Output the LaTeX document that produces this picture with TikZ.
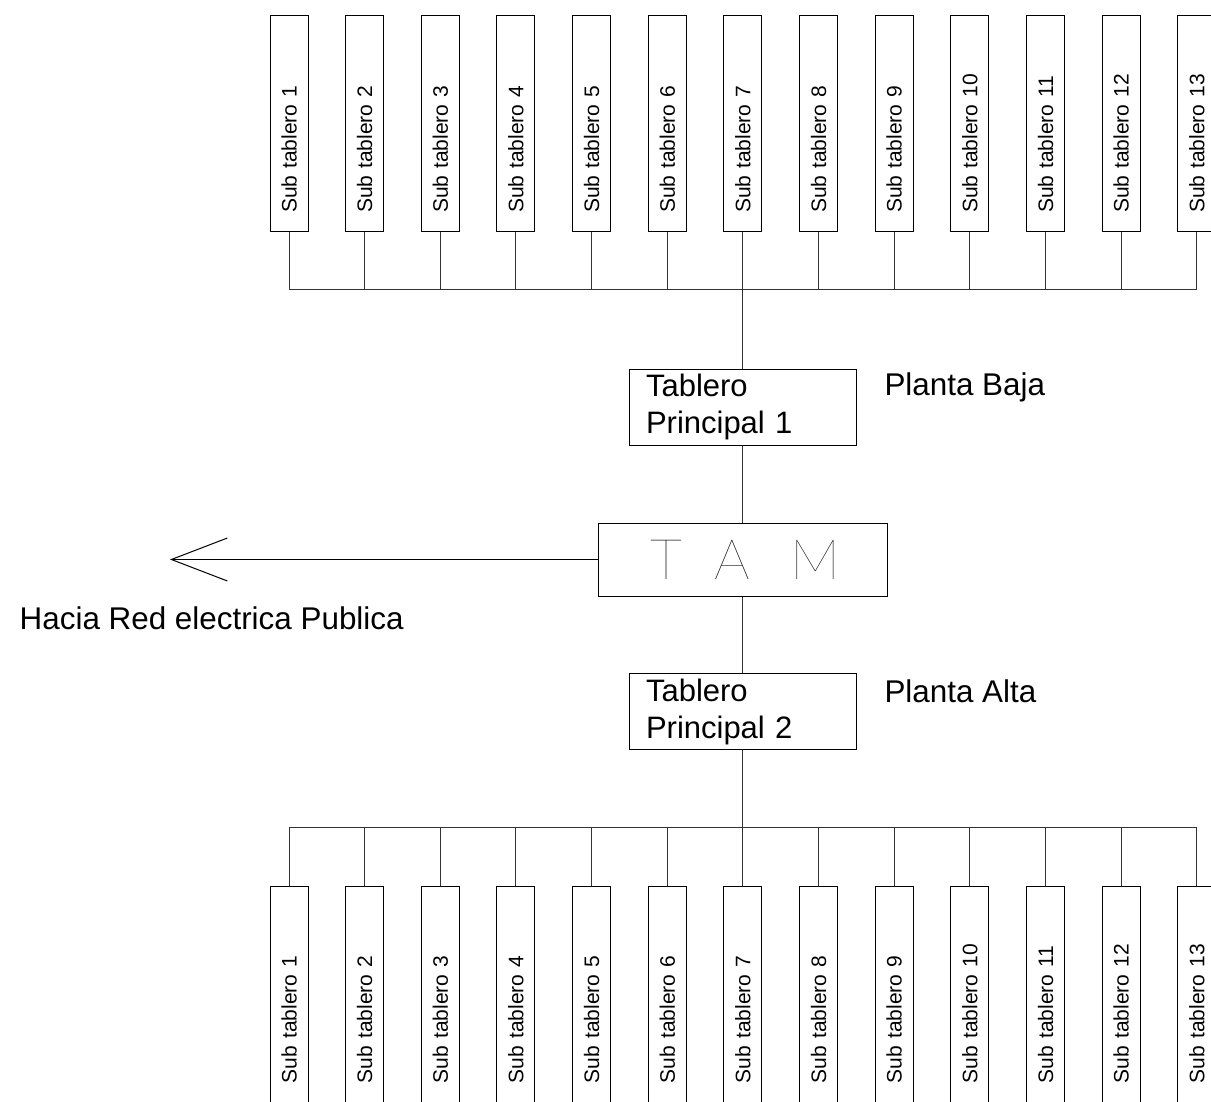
\documentclass[tikz,border=0pt]{standalone}
\usepackage{fontspec}
\setmainfont{Liberation Sans}
\IfFontExistsTF{Lato Thin}{\newfontfamily\tamfont{Lato Thin}}{%
  \IfFontExistsTF{Lato Hairline}{\newfontfamily\tamfont{Lato Hairline}}{\newfontfamily\tamfont{Liberation Sans}}}
\usetikzlibrary{arrows.meta}
\tikzset{
  subbox/.style={draw, line width=1pt, rotate=90, minimum width=216pt, minimum height=38pt,
    inner sep=0pt, text width=216pt, align=left, font=\fontsize{21}{25}\selectfont},
  mainbox/.style={draw, line width=1pt, minimum width=227pt, minimum height=76pt,
    inner xsep=17pt, inner ysep=0pt, text width=193pt, align=left, font=\fontsize{31}{37}\selectfont},
  tambox/.style={draw, line width=1pt, minimum width=289pt, minimum height=73pt, inner sep=0pt,
    font=\tamfont\fontsize{56}{60}\selectfont},
  wire/.style={line width=1pt, black!80},
  lbl/.style={anchor=base west, inner sep=0pt, font=\fontsize{31.4}{37}\selectfont},
}
\begin{document}
\begin{tikzpicture}[x=1pt,y=-1pt]
\path[fill=white, use as bounding box] (0,0) rectangle (1211,1102);
\foreach \i in {1,...,13} {
  \pgfmathsetmacro\xx{289+(\i-1)*75.65}
  \node[subbox] (t\i) at (\xx,124) {\hspace*{19pt}Sub tablero \i};
  \node[subbox] (b\i) at (\xx,994) {\hspace*{19pt}Sub tablero \i};
}
\coordinate (busT) at (742.5,290);
\coordinate (busB) at (742.5,827);
\node[mainbox] (tp1) at (742.5,407) {Tablero\\Principal 1};
\node[tambox] (tam) at (742.5,559.5) {\hspace{6pt}T\hspace{32pt}A\hspace{40pt}M};
\node[mainbox] (tp2) at (742.5,711.5) {Tablero\\Principal 2};
\coordinate (tip) at (170,559.5);
\node[lbl] (pb) at (884.3,395.7) {Planta Baja};
\node[lbl] (pa) at (884.3,702.7) {Planta Alta};
\node[lbl] (red) at (19.5,629.3) {Hacia Red electrica Publica};
\foreach \i in {1,...,13} {
  \draw[wire] (t\i.west) -- (t\i.west |- busT);
  \draw[wire] (b\i.east) -- (b\i.east |- busB);
}
\draw[wire] (t1.west |- busT) -- (t13.west |- busT);
\draw[wire] (b1.east |- busB) -- (b13.east |- busB);
\draw[wire] (tp1.north) -- (tp1.north |- busT);
\draw[wire] (tp1.south) -- (tam.north);
\draw[wire] (tam.south) -- (tp2.north);
\draw[wire] (tp2.south) -- (tp2.south |- busB);
\draw[wire, black, -{Straight Barb[length=56pt,width=43pt]}] (tam.west) -- (tip);
\end{tikzpicture}
\end{document}
